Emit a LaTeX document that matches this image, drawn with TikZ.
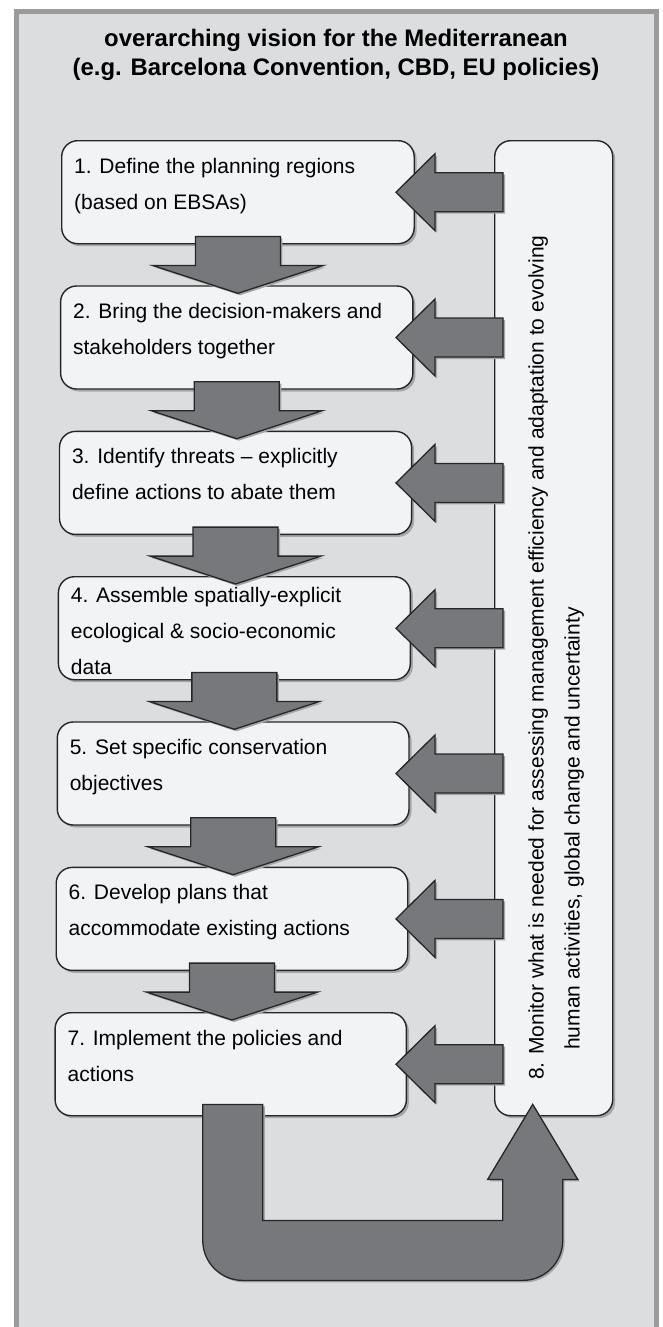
\documentclass[tikz,border=0pt]{standalone}
\usepackage{fontspec}
\setmainfont{Liberation Sans}
\usetikzlibrary{calc,shadows}
\definecolor{bgc}{HTML}{DCDDDF}
\definecolor{framec}{HTML}{9A9B9D}
\definecolor{boxc}{HTML}{F2F3F5}
\definecolor{arrowc}{HTML}{77787B}
\definecolor{shadec}{HTML}{A5A6A8}
\newcommand\dnarrowblk[2]{%
  \draw[blockarrow] let \p1=(#1.south), \p2=(#2.north) in
    (\x1-42.5pt,\y1+8pt) -- (\x1+42.5pt,\y1+8pt) -- (\x1+42.5pt,\y1-21pt) --
    (\x1+85.5pt,\y1-21pt) -- (\x1,\y2-8pt) -- (\x1-85.5pt,\y1-21pt) --
    (\x1-42.5pt,\y1-21pt) -- cycle;}
\newcommand\lfarrowblk[1]{%
  \draw[blockarrow] let \p1=(#1.east), \p2=(b8.west) in
    (\x2+9pt,\y1+19.5pt) -- (\x2-59pt,\y1+19.5pt) -- (\x2-59pt,\y1+38.5pt) --
    (\x2-98pt,\y1) -- (\x2-59pt,\y1-38.5pt) -- (\x2-59pt,\y1-19.5pt) --
    (\x2+9pt,\y1-19.5pt) -- cycle;}
\newcommand\topstrut{\rule{0pt}{16pt}}
\begin{document}
\begin{tikzpicture}[x=1pt,y=-1pt,
  stepbox/.style={draw=black!85, line width=1.4pt, fill=boxc, rounded corners=16pt,
    inner sep=0pt, anchor=north west,
    drop shadow={shadow xshift=2.5pt, shadow yshift=-2.5pt, fill=shadec, opacity=1}},
  blockarrow/.style={draw=black!85, line width=1.3pt, fill=arrowc, line join=miter,
    drop shadow={shadow xshift=2pt, shadow yshift=-2pt, fill=shadec, opacity=1}},
  steptext/.style={anchor=north west, inner sep=0pt, align=left,
    font=\fontsize{21}{36}\selectfont},
]
\useasboundingbox (0,0) rectangle (662,1327);
% background frame
\fill[bgc] (14,9.5) rectangle (659,1327);
\draw[framec, line width=4.7pt] (16.4,1327) -- (16.4,11.8) -- (656.6,11.8) -- (656.6,1327);
% title
\node[font=\bfseries\fontsize{23.9}{29}\selectfont, align=center, inner sep=0pt]
  (title) at (336,55) {overarching vision for the Mediterranean\\(e.g. Barcelona Convention, CBD, EU policies)};
% step boxes
\node[stepbox, minimum width=352.5pt, minimum height=103pt] (b1) at (61.0,140.0) {};
\node[stepbox, minimum width=352.3pt, minimum height=103pt] (b2) at (59.9,285.3) {};
\node[stepbox, minimum width=352.1pt, minimum height=103pt] (b3) at (58.8,430.7) {};
\node[stepbox, minimum width=351.9pt, minimum height=103pt] (b4) at (57.7,576.0) {};
\node[stepbox, minimum width=351.7pt, minimum height=103pt] (b5) at (56.6,721.3) {};
\node[stepbox, minimum width=351.5pt, minimum height=103pt] (b6) at (55.5,866.7) {};
\node[stepbox, minimum width=351.3pt, minimum height=103pt] (b7) at (54.4,1012.0) {};
\node[stepbox, minimum width=118pt, minimum height=975pt] (b8) at (494,140) {};
% texts
\node[steptext] (t1) at ($(b1.north west)+(13,17)$) {\topstrut 1. Define the planning regions\\(based on EBSAs)};
\node[steptext] (t2) at ($(b2.north west)+(13,17)$) {\topstrut 2. Bring the decision-makers and\\stakeholders together};
\node[steptext] (t3) at ($(b3.north west)+(13,17)$) {\topstrut 3. Identify threats -- explicitly\\define actions to abate them};
\node[steptext] (t4) at ($(b4.north west)+(13,10)$) {\topstrut 4. Assemble spatially-explicit\\ecological \& socio-economic\\data};
\node[steptext] (t5) at ($(b5.north west)+(13,17)$) {\topstrut 5. Set specific conservation\\objectives};
\node[steptext] (t6) at ($(b6.north west)+(13,17)$) {\topstrut 6. Develop plans that\\accommodate existing actions};
\node[steptext] (t7) at ($(b7.north west)+(13,17)$) {\topstrut 7. Implement the policies and\\actions};
\node[steptext, rotate=90] (t8) at (527.5,1080) {\topstrut 8. Monitor what is needed for assessing management efficiency and adaptation to evolving\\\hspace*{30pt}human activities, global change and uncertainty};
% down arrows
\dnarrowblk{b1}{b2}
\dnarrowblk{b2}{b3}
\dnarrowblk{b3}{b4}
\dnarrowblk{b4}{b5}
\dnarrowblk{b5}{b6}
\dnarrowblk{b6}{b7}
% arrows from monitoring box
\lfarrowblk{b1}
\lfarrowblk{b2}
\lfarrowblk{b3}
\lfarrowblk{b4}
\lfarrowblk{b5}
\lfarrowblk{b6}
\lfarrowblk{b7}
% U-shaped arrow from step 7 to step 8
\draw[blockarrow] let \p1=(b7.south), \p2=(b8.south) in
  (\x1-28pt,\y1+12pt) -- (\x1+32pt,\y1+12pt) -- (\x1+32pt,\y2-104pt) --
  (\x2-51pt,\y2-104pt) -- (\x2-51pt,\y2-63pt) -- (\x2-66pt,\y2-63pt) --
  (\x2-21pt,\y2+12pt) -- (\x2+24pt,\y2-63pt) -- (\x2+9pt,\y2-63pt) --
  (\x2+9pt,\y2-124pt) .. controls (\x2+9pt,\y2-146.1pt) and (\x2-8.9pt,\y2-164pt) ..
  (\x2-31pt,\y2-164pt) -- (\x1+12pt,\y2-164pt) .. controls (\x1-10.1pt,\y2-164pt) and (\x1-28pt,\y2-146.1pt) ..
  (\x1-28pt,\y2-124pt) -- cycle;
\end{tikzpicture}
\end{document}
